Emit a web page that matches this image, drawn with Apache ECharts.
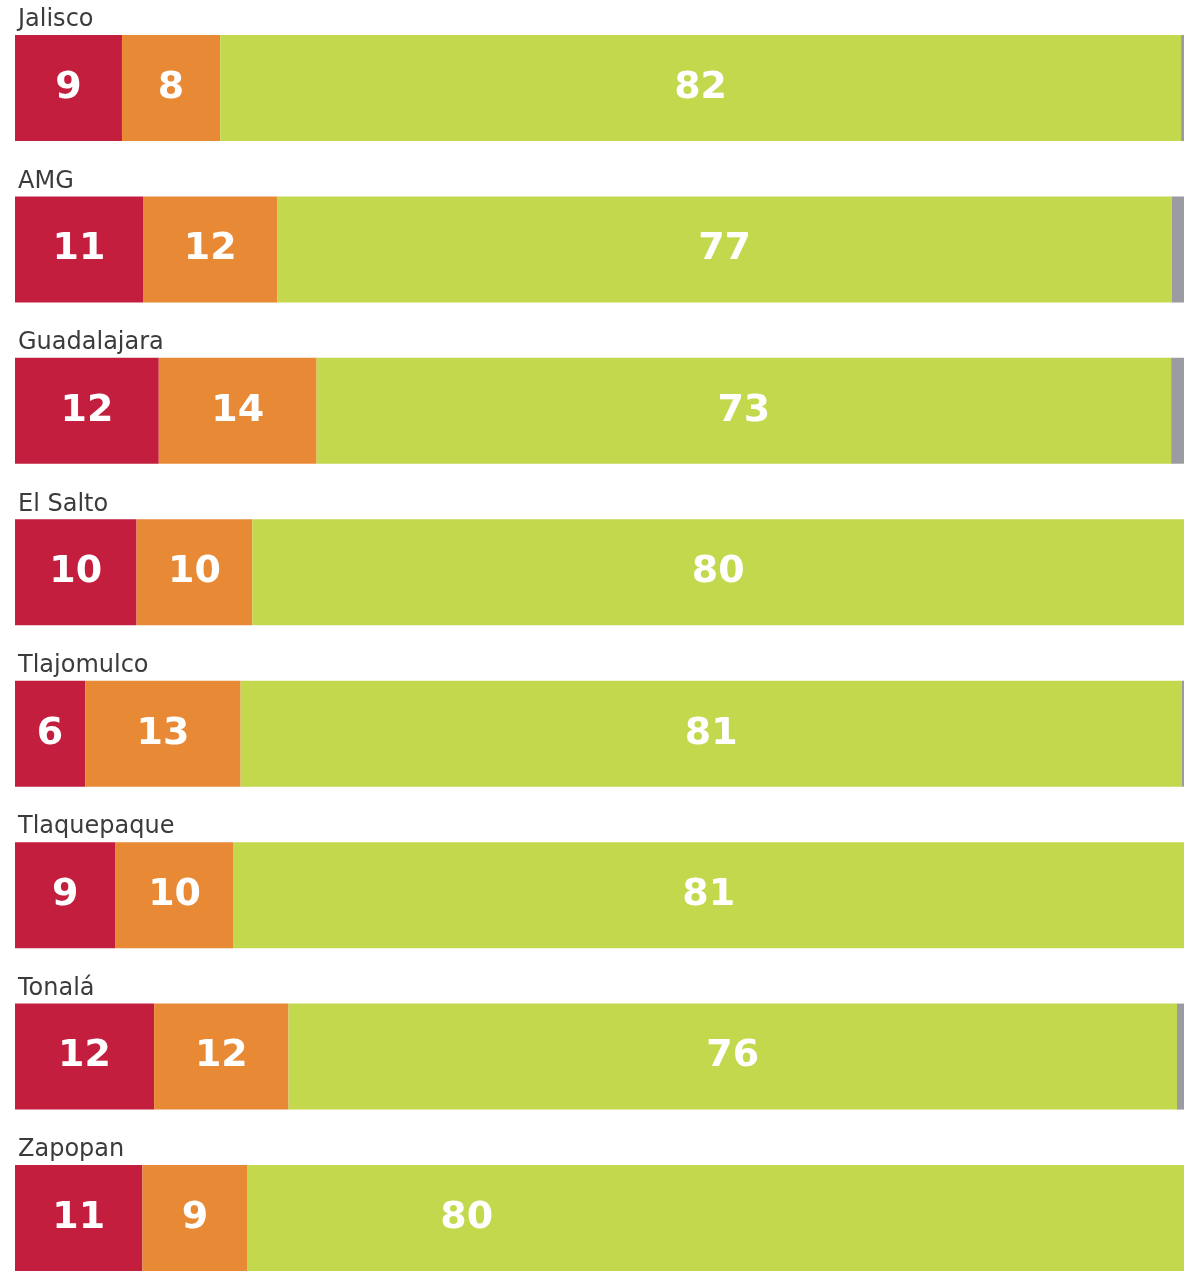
<!DOCTYPE html>
<html>
<head>
<meta charset="utf-8">
<script src="https://cdn.jsdelivr.net/npm/echarts@6/dist/echarts.min.js"></script>
<style>
  html, body { margin: 0; padding: 0; background: #fff; }
  #chart { width: 1186px; height: 1271px; }
</style>
</head>
<body>
<div id="chart"></div>
<script>
const places = ['Jalisco', 'AMG', 'Guadalajara', 'El Salto', 'Tlajomulco', 'Tlaquepaque', 'Tonalá', 'Zapopan'];

// shares (percent); labels show them rounded
const redValues = [9.15, 10.95, 12.3, 10.4, 6.0, 8.6, 11.9, 10.9];
const orangeValues = [8.4, 11.5, 13.5, 9.9, 13.3, 10.1, 11.5, 9.0];
const greenValues = [82.2, 76.5, 73.1, 79.7, 80.5, 81.3, 76.0, 80.1];
const grayValues = [0.25, 1.05, 1.1, 0, 0.2, 0, 0.6, 0];

const chart = echarts.init(document.getElementById('chart'));

const numberLabel = {
  show: true,
  position: 'inside',
  color: '#fff',
  fontFamily: 'DejaVu Sans',
  fontWeight: 'bold',
  fontSize: 38,
  formatter: (p) => Math.round(p.value),
};

function barSeries(name, values, color, label) {
  return {
    name: name,
    type: 'bar',
    stack: 'total',
    barWidth: 106,
    clip: false,
    data: values,
    itemStyle: { color: color },
    label: label,
    emphasis: { disabled: true },
    silent: true,
  };
}

// Zapopan's green label sits left of the middle in the original
const greenData = greenValues.map((v, i) => {
  if (places[i] !== 'Zapopan') {
    return v;
  }
  return {
    value: v,
    label: { position: [219, '50%'], align: 'center', verticalAlign: 'middle' },
  };
});

chart.setOption({
  animation: false,
  // first and last bar centres sit on the grid edges (boundaryGap off)
  grid: { left: 15, right: 2, top: 88, bottom: 53 },
  xAxis: {
    type: 'value',
    min: 0,
    max: 100,
    show: false,
  },
  yAxis: {
    type: 'category',
    data: places,
    inverse: true,
    boundaryGap: false,
    axisLine: { show: false },
    axisTick: { show: false },
    splitLine: { show: false },
    axisLabel: {
      inside: true,
      margin: 3,
      align: 'left',
      verticalAlign: 'bottom',
      lineHeight: 28,
      padding: [0, 0, 54, 0],
      color: '#3b3b3b',
      fontFamily: 'DejaVu Sans',
      fontSize: 24,
    },
  },
  series: [
    barSeries('red', redValues, '#c41e3f', numberLabel),
    barSeries('orange', orangeValues, '#e88a35', numberLabel),
    barSeries('green', greenData, '#c3d84d', numberLabel),
    barSeries('gray', grayValues, '#9b9ca1', { show: false }),
  ],
});
</script>
</body>
</html>
